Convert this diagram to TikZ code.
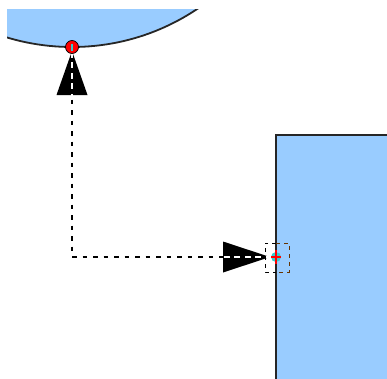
\documentclass[tikz,border=0pt]{standalone}
\usetikzlibrary{calc}

\definecolor{shapeblue}{HTML}{99CCFF}
\definecolor{xorbrown}{HTML}{663300}
\definecolor{gluecyan}{HTML}{33CCCC}

\tikzset{
  bluebox/.style={fill=shapeblue, draw=black!85, line width=1.8pt},
  conn/.style={black, line width=1.5pt, dash pattern=on 4.5pt off 6pt},
  tiphead/.style={fill=black},
  gluept/.style={fill=red, draw=black, line width=0.7pt},
}

\begin{document}
\begin{tikzpicture}[x=1pt, y=-1pt]
  \useasboundingbox (0,0) rectangle (387,378);

  % shapes, cut by the window
  \begin{scope}
    \clip (7,9) rectangle (387,378);
    \draw[bluebox] (72,-178) circle (225pt);
    \draw[bluebox, line width=2.2pt] (276,135) rectangle (400,400);
  \end{scope}

  % glue points of the connector
  \coordinate (gtop) at (72,47);
  \coordinate (gright) at (276,257);
  \coordinate (bend) at (72,257);

  % arrow heads
  \fill[tiphead] ($(gtop)+(0,4)$) -- ++(-15.5,44) -- ++(31,0) -- cycle;
  \fill[tiphead] ($(gright)+(-6,0)$) -- ++(-47,-15.5) -- ++(0,31) -- cycle;

  % connector
  \draw[white, line width=1.5pt] (gtop) -- (bend) -- (gright);
  \draw[conn] (gtop) -- (bend) -- (gright);

  % glue point markers
  \node[gluept, circle, inner sep=0pt, minimum size=13pt] (ptop) at (gtop) {};
  \fill[gluecyan] ($(gtop)+(-1,-3.5)$) rectangle ($(gtop)+(1,3.5)$);

  \fill[gluecyan] (gright) circle (5pt);
  \draw[red, line width=2.2pt] ($(gright)+(0,-7)$) -- ($(gright)+(0,7)$);
  \draw[red, line width=2.2pt] ($(gright)+(-5,0)$) -- ($(gright)+(5,0)$);

  % selection frame
  \draw[black, line width=1pt, dash pattern=on 4pt off 4pt] (276,243) -- (265,243) -- (265,272) -- (276,272);
  \draw[xorbrown, line width=1pt, dash pattern=on 4pt off 4pt] (276,243) -- (289,243) -- (289,272) -- (276,272);
\end{tikzpicture}
\end{document}
